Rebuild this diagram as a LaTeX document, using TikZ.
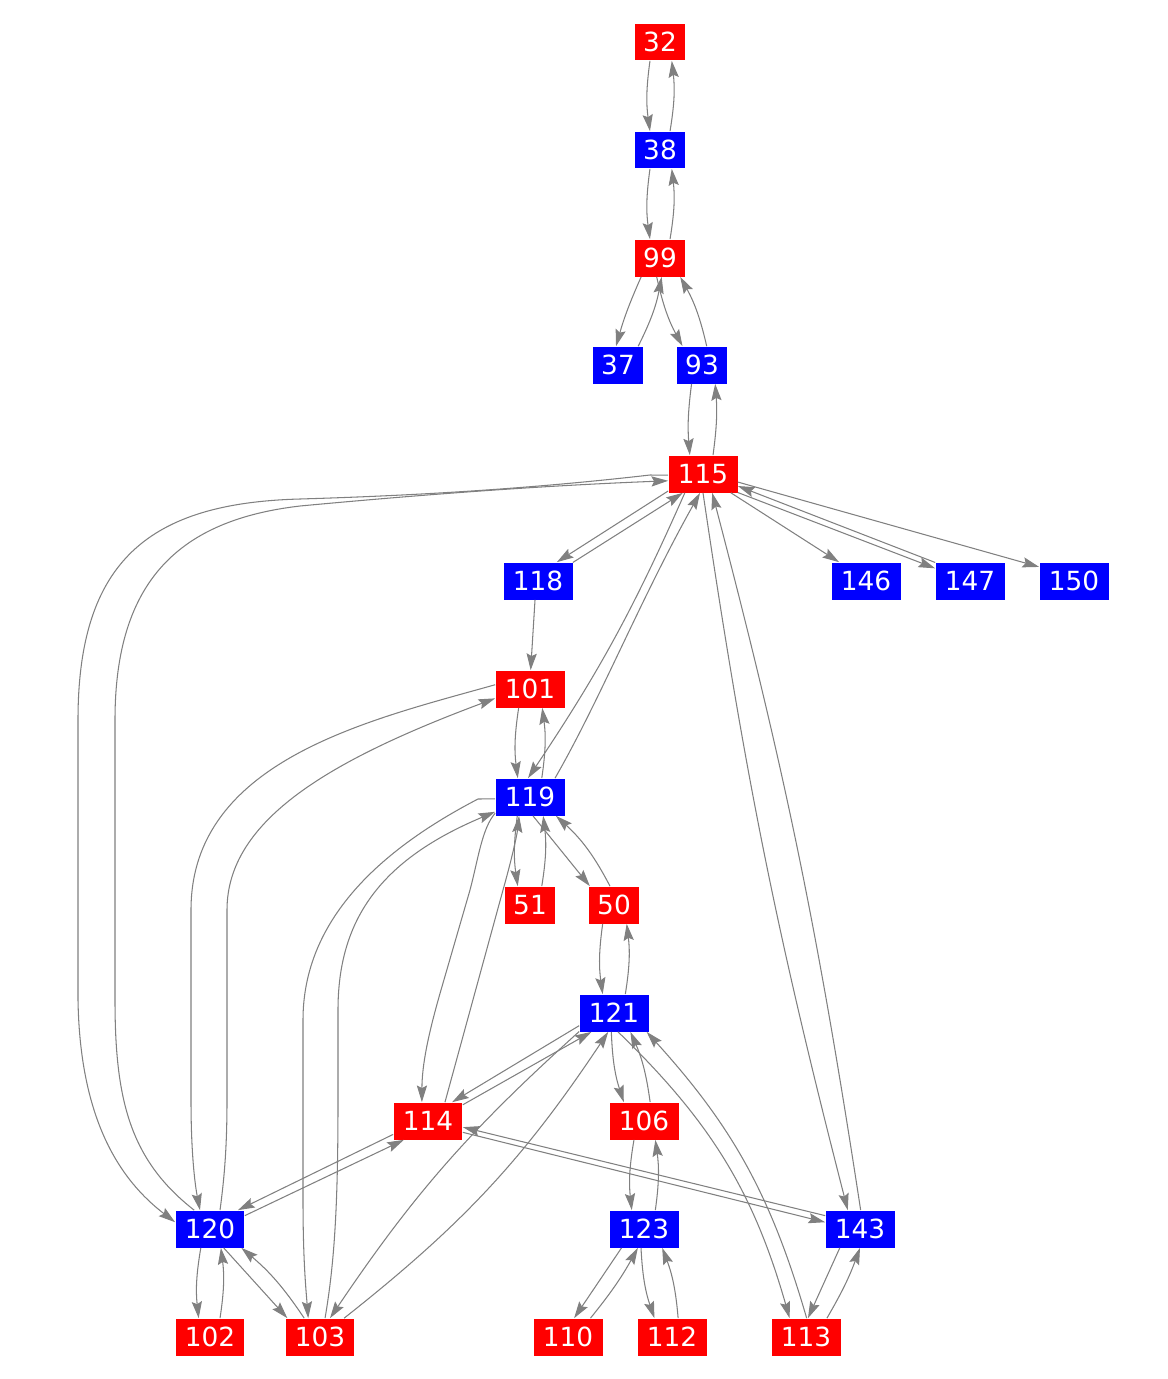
\documentclass[tikz,border=0pt]{standalone}
\usepackage{fontspec}
\setmainfont{DejaVu Sans}
\usepackage{tikz}
\usetikzlibrary{arrows.meta}
\tikzset{cell/.style={rectangle,inner sep=0pt,minimum width=1cm,minimum height=0.74cm,text=white,font=\fontsize{15pt}{18pt}\selectfont}}
\tikzset{wide/.style={minimum width=1.38cm}}
\tikzset{hot/.style={cell,fill=red}}
\tikzset{cold/.style={cell,fill=blue}}
\tikzset{link/.style={draw=gray,line width=0.6pt,-{Stealth[length=9.5pt,width=5.8pt,inset=1.5pt]}}}
\tikzset{links/.style={every edge/.style=link}}

\begin{document}
\begin{tikzpicture}[x=0.02cm,y=-0.02cm]
  \useasboundingbox (0,0) rectangle (1167,1379);
  \node [hot] (n32) at (660,42) {32};
  \node [cold] (n38) at (660,150) {38};
  \node [hot] (n99) at (660,258) {99};
  \node [cold] (n37) at (618,365) {37};
  \node [cold] (n93) at (702,365) {93};
  \node [hot,wide] (n115) at (703,474) {115};
  \node [cold,wide] (n118) at (538,581) {118};
  \node [cold,wide] (n146) at (866,581) {146};
  \node [cold,wide] (n147) at (970,581) {147};
  \node [cold,wide] (n150) at (1074,581) {150};
  \node [hot,wide] (n101) at (530,689) {101};
  \node [cold,wide] (n119) at (530,797) {119};
  \node [hot] (n51) at (530,905) {51};
  \node [hot] (n50) at (614,905) {50};
  \node [cold,wide] (n121) at (614,1013) {121};
  \node [hot,wide] (n114) at (428,1121) {114};
  \node [hot,wide] (n106) at (644,1121) {106};
  \node [cold,wide] (n120) at (210,1229) {120};
  \node [cold,wide] (n123) at (644,1229) {123};
  \node [cold,wide] (n143) at (860,1229) {143};
  \node [hot,wide] (n102) at (210,1337) {102};
  \node [hot,wide] (n103) at (320,1337) {103};
  \node [hot,wide] (n110) at (568,1337) {110};
  \node [hot,wide] (n112) at (672,1337) {112};
  \node [hot,wide] (n113) at (806,1337) {113};
  \path [links]
  (n32.242) edge [bend right=8] (n38.118)
  (n38.62) edge [bend right=8] (n32.302)
  (n38.242) edge [bend right=8] (n99.118)
  (n99.62) edge [bend right=8] (n38.302)
  (n99.225) edge [bend right=4] (n37.96)
  (n37.43) edge [bend right=8] (n99.275)
  (n99.260) edge [bend right=8] (n93.136)
  (n93.76) edge [bend right=8] (n99.317)
  (n93.241) edge [bend right=6] (n115.125)
  (n115.62) edge [bend right=6] (n93.305)
  (n115.206) edge (n118.45)
  (n118.28) edge (n115.223)
  (n115.326) edge (n146.145)
  (n115.332) edge (n147.160)
  (n147.152) edge (n115.341)
  (n115.347) edge (n150.158)
  (n118.261) edge (n101.88)
  (n101.239) edge [bend right=8] (n119.123)
  (n119.58) edge [bend right=8] (n101.303)
  (n115.226) edge [bend left=5] (n119.96)
  (n115.270) edge [bend right=3] (n143.123)
  (n143.88) edge [bend right=3] (n115.296)
  (n119.236) edge [bend right=8] (n51.123)
  (n51.58) edge [bend right=8] (n119.305)
  (n119.279) edge (n50.142)
  (n50.102) edge [bend right=10] (n119.324)
  (n50.239) edge [bend right=8] (n121.121)
  (n121.59) edge [bend right=8] (n50.304)
  (n121.200) edge (n114.38)
  (n114.25) edge (n121.220)
  (n121.208) edge [bend right=7] (n103.62)
  (n103.38) edge [bend right=9] (n121.253)
  (n121.262) edge [bend right=8] (n106.137)
  (n106.72) edge [bend right=8] (n121.311)
  (n121.282) edge [bend left=15] (n113.131)
  (n113.88) edge [bend right=13] (n121.330)
  (n114.201) edge (n120.34)
  (n120.21) edge (n114.218)
  (n114.342) edge (n143.169)
  (n143.159) edge (n114.350)
  (n106.242) edge [bend right=8] (n123.123)
  (n123.59) edge [bend right=8] (n106.301)
  (n123.220) edge (n110.72)
  (n110.40) edge [bend right=5] (n123.252)
  (n123.261) edge [bend right=8] (n112.133)
  (n112.72) edge [bend right=8] (n123.314)
  (n143.223) edge (n113.84)
  (n113.42) edge [bend right=5] (n143.270)
  (n120.244) edge [bend right=8] (n102.121)
  (n102.62) edge [bend right=8] (n120.300)
  (n120.306) edge (n103.150)
  (n103.130) edge [bend right=8] (n120.329);
  \draw [link] (n119.37) .. controls (600,700) and (640,600) .. (n115.261);
  \draw [link] (n115.182) -- (650,475) .. controls (520,490) and (400,496) .. (300,499) .. controls (150,503) and (78,560) .. (78,720) -- (78,1000) .. controls (80,1120) and (120,1180) .. (n120.169);
  \draw [link] (n120.130) .. controls (130,1160) and (115,1100) .. (115,1000) -- (115,720) .. controls (115,580) and (180,520) .. (300,506) .. controls (450,492) and (560,485) .. (n115.191);
  \draw [link] (n101.173) .. controls (370,720) and (191,760) .. (191,910) -- (191,1100) .. controls (191,1160) and (196,1190) .. (n120.118);
  \draw [link] (n120.62) .. controls (224,1180) and (227,1150) .. (227,1100) -- (227,910) .. controls (227,820) and (330,760) .. (n101.195);
  \draw [link] (n119.183) -- (478,799) .. controls (380,850) and (303,920) .. (303,1020) -- (303,1200) .. controls (303,1260) and (306,1290) .. (n103.122);
  \draw [link] (n103.75) .. controls (335,1260) and (338,1200) .. (338,1100) -- (338,1010) .. controls (338,920) and (380,860) .. (n119.203);
  \draw [link] (n119.205) .. controls (482,828) and (478,860) .. (470,890) -- (441,990) .. controls (428,1035) and (422,1065) .. (n114.108);
  \draw [link] (n114.48) -- (503,890) .. controls (512,858) and (517,835) .. (n119.240);
\end{tikzpicture}
\end{document}
